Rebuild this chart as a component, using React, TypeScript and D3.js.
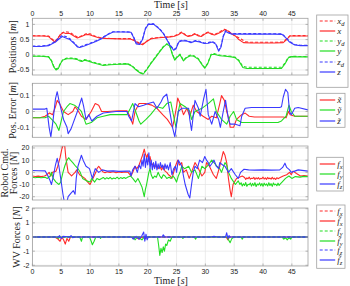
import React from 'react';
import * as d3 from 'd3';

type P = [number, number];

const T_MAX = 47.8;
const timeTicks = [0, 5, 10, 15, 20, 25, 30, 35, 40, 45];
const timeTickLabels = ['0', '5', '10', '15', '20', '25', '30', '35', '40', '45'];

// ---------- Panel 1: positions [m]
const posXd: P[] = [[0,0.63],[2.8,0.62],[3.4,0.52],[3.9,0.44],[4.4,0.55],[5,0.7],[5.6,0.76],[6.5,0.74],[7.3,0.64],[7.9,0.57],[8.6,0.63],[9.4,0.7],[10,0.69],[10.8,0.62],[11.8,0.56],[13,0.54],[15,0.53],[17,0.53],[17.8,0.47],[18.5,0.39],[19.1,0.35],[19.8,0.45],[20.6,0.54],[22,0.57],[23.5,0.59],[24.5,0.61],[25.3,0.68],[25.9,0.75],[26.5,0.67],[27,0.62],[27.6,0.65],[28.2,0.7],[28.8,0.64],[29.3,0.62],[29.9,0.7],[30.5,0.75],[31,0.7],[31.6,0.67],[32.2,0.72],[32.8,0.79],[33.3,0.84],[33.9,0.8],[34.6,0.68],[35.4,0.6],[36.2,0.52],[36.9,0.43],[38,0.41],[40,0.41],[42,0.41],[43.5,0.42],[44.2,0.54],[44.7,0.63],[47.8,0.63]];
const posX: P[] = [[0,0.62],[1,0.62],[2,0.62],[2.8,0.6],[3.4,0.5],[3.9,0.42],[4.3,0.5],[4.8,0.65],[5.3,0.73],[5.8,0.7],[6.5,0.7],[7.2,0.62],[7.8,0.55],[8.5,0.6],[9.2,0.66],[9.8,0.67],[10.5,0.62],[11.5,0.56],[12.5,0.54],[14,0.53],[15.5,0.52],[17,0.52],[17.8,0.45],[18.5,0.37],[19.1,0.33],[19.7,0.42],[20.5,0.52],[21.5,0.55],[22.5,0.57],[23.5,0.58],[24.5,0.6],[25.3,0.66],[25.9,0.73],[26.5,0.65],[27,0.6],[27.6,0.63],[28.2,0.68],[28.8,0.62],[29.3,0.6],[29.9,0.68],[30.5,0.73],[31,0.68],[31.6,0.65],[32.2,0.7],[32.8,0.76],[33.3,0.82],[33.9,0.78],[34.5,0.7],[35.2,0.62],[35.8,0.5],[36.6,0.4],[38,0.39],[40,0.39],[42,0.39],[43.5,0.4],[44.2,0.52],[44.7,0.62],[46,0.62],[47.8,0.62]];
const posYd: P[] = [[0,-0.04],[1.5,-0.04],[2.8,-0.06],[3.3,-0.18],[3.7,-0.37],[4.1,-0.47],[4.5,-0.43],[4.9,-0.26],[5.3,-0.15],[6,-0.11],[7,-0.11],[7.7,-0.13],[8.2,-0.17],[8.6,-0.2],[9,-0.16],[9.6,-0.18],[10.5,-0.24],[11.5,-0.29],[12.3,-0.33],[13.5,-0.31],[15,-0.3],[16.5,-0.29],[17.3,-0.36],[18,-0.48],[18.7,-0.58],[19.2,-0.62],[19.8,-0.48],[20.5,-0.28],[21.3,-0.08],[22,0.1],[22.7,0.27],[23.3,0.36],[23.8,0.31],[24.3,0.02],[24.7,-0.15],[25.1,-0.06],[25.6,0.02],[26.2,-0.18],[26.7,-0.08],[27.4,-0.01],[28,-0.03],[28.8,-0.13],[29.5,-0.33],[29.9,-0.42],[30.4,-0.28],[31,0.02],[31.5,0.04],[32.5,-0.01],[33.5,-0.03],[34.5,-0.05],[35.2,-0.08],[35.8,-0.18],[36.5,-0.38],[37.2,-0.41],[43.2,-0.41],[43.8,-0.27],[44.4,-0.08],[45,-0.05],[47.8,-0.06]];
const posY: P[] = [[0,-0.05],[1.5,-0.05],[2.8,-0.07],[3.3,-0.2],[3.7,-0.4],[4.1,-0.5],[4.5,-0.45],[4.9,-0.28],[5.3,-0.17],[6,-0.13],[7,-0.13],[7.7,-0.15],[8.2,-0.2],[8.6,-0.22],[9,-0.18],[9.6,-0.2],[10.5,-0.26],[11.5,-0.31],[12.3,-0.35],[13.5,-0.33],[15,-0.31],[16.5,-0.3],[17.3,-0.38],[18,-0.5],[18.7,-0.6],[19.2,-0.64],[19.8,-0.5],[20.5,-0.3],[21.3,-0.1],[22,0.08],[22.7,0.25],[23.3,0.35],[23.8,0.3],[24.3,0],[24.7,-0.18],[25.1,-0.08],[25.6,0],[26.2,-0.2],[26.7,-0.1],[27.4,-0.03],[28,-0.05],[28.8,-0.15],[29.5,-0.35],[29.9,-0.44],[30.4,-0.3],[31,0],[31.5,0.02],[32.5,-0.03],[33.5,-0.05],[34.5,-0.07],[35.2,-0.1],[35.8,-0.2],[36.5,-0.42],[37.2,-0.45],[39,-0.45],[41,-0.45],[43.2,-0.45],[43.8,-0.3],[44.4,-0.1],[45,-0.06],[46,-0.07],[47.8,-0.07]];
const posZd: P[] = [[0,0.29],[1.5,0.29],[2.8,0.32],[3.5,0.39],[4,0.45],[4.6,0.56],[5.2,0.64],[5.8,0.6],[6.5,0.53],[7.2,0.4],[7.8,0.28],[8.2,0.26],[9,0.31],[10,0.38],[11,0.46],[12,0.55],[13,0.67],[14,0.76],[17.1,0.75],[17.6,0.57],[18,0.39],[18.6,0.37],[19.1,0.52],[19.6,0.87],[20.1,1.01],[21,1.02],[22,0.87],[22.7,0.72],[23.3,0.52],[23.9,0.32],[24.5,0.17],[24.9,0.22],[25.4,0.44],[26,0.48],[26.8,0.47],[27.5,0.42],[28.3,0.47],[29,0.44],[29.8,0.39],[30.5,0.4],[31.2,0.44],[31.8,0.37],[32.3,0.15],[32.7,0.28],[33.1,0.62],[33.5,0.79],[34,0.74],[34.5,0.7],[43.3,0.69],[44,0.57],[44.6,0.44],[45.5,0.34],[46.5,0.31],[47.8,0.31]];
const posZ: P[] = [[0,0.27],[1.5,0.27],[2.8,0.3],[3.5,0.37],[4,0.42],[4.6,0.52],[5.2,0.6],[5.8,0.55],[6.5,0.5],[7.2,0.38],[7.8,0.26],[8.2,0.24],[9,0.29],[10,0.36],[11,0.44],[12,0.53],[13,0.66],[14,0.75],[15,0.75],[16,0.75],[17.1,0.74],[17.6,0.55],[18,0.36],[18.6,0.34],[19.1,0.5],[19.6,0.85],[20.1,1],[21,1.01],[22,0.85],[22.7,0.7],[23.3,0.5],[23.9,0.3],[24.5,0.15],[24.9,0.2],[25.4,0.42],[26,0.46],[26.8,0.45],[27.5,0.4],[28.3,0.45],[29,0.42],[29.8,0.37],[30.5,0.38],[31.2,0.42],[31.8,0.35],[32.3,0.12],[32.7,0.25],[33.1,0.6],[33.5,0.77],[34,0.72],[34.5,0.68],[36,0.68],[38,0.68],[40,0.68],[42,0.68],[43.3,0.67],[44,0.55],[44.6,0.42],[45.5,0.32],[46.5,0.3],[47.8,0.3]];
const posTicks = [-0.5, 0, 0.5, 1];
const posTickLabels = ['-0.5', '0', '0.5', '1'];

// ---------- Panel 2: position error [m]
const errX: P[] = [[0,-0.04],[1.3,-0.04],[2.2,-0.03],[3,-0.01],[3.5,-0.02],[4,0.03],[4.3,0.07],[4.7,0.05],[5.4,0],[6.2,-0.02],[7,0],[7.4,0.03],[8,0],[8.5,-0.03],[9.3,-0.05],[10.2,0],[10.9,0.05],[11.5,0.04],[12,0],[13,0],[15,0.005],[16.4,0.005],[16.9,-0.03],[17.4,-0.08],[17.8,0],[18.5,0.05],[19.6,0.05],[20.7,0.04],[21.6,0.02],[22.6,-0.02],[23.4,-0.05],[24.3,-0.1],[24.6,-0.05],[25,0.03],[25.2,0.085],[25.6,0.05],[26.2,-0.02],[26.8,0.02],[27.3,-0.03],[27.9,0.04],[28.5,0],[29.6,-0.03],[30.5,-0.05],[31.1,-0.03],[31.9,-0.04],[32.5,0.05],[32.8,0.1],[33.3,0.07],[33.7,0],[34.1,-0.05],[34.3,-0.1],[34.9,-0.1],[35.4,-0.05],[36.3,-0.02],[36.9,-0.01],[37.6,-0.03],[38.5,-0.035],[40,-0.035],[42,-0.035],[43.5,-0.035],[44,-0.04],[44.4,0],[44.7,-0.02],[45.5,-0.03],[47.8,-0.03]];
const errY: P[] = [[0,-0.04],[2.2,-0.04],[2.8,-0.03],[3.6,-0.06],[4.1,-0.08],[4.6,-0.12],[5,-0.06],[5.4,0],[6,0.03],[6.5,0.05],[7.3,0.04],[8,0.02],[8.5,0],[9,-0.05],[9.3,-0.08],[10.2,-0.07],[11.2,-0.04],[12.3,-0.03],[13.5,-0.02],[15,-0.02],[16.4,-0.02],[17,0.02],[17.4,0.05],[17.9,0],[18.5,-0.06],[18.8,-0.08],[19.7,-0.05],[20.5,-0.02],[21.6,0.03],[22.6,0.02],[23.3,0.05],[24,0.06],[24.5,-0.03],[24.9,-0.1],[25.3,0],[25.6,0.05],[26.5,0.03],[27.3,0],[27.6,-0.05],[28.2,0],[29.4,0.02],[30.5,0.05],[31.4,0.08],[31.9,0],[32.8,-0.05],[33.7,-0.08],[34.3,-0.03],[34.9,0],[35.4,-0.05],[36.3,-0.07],[38,-0.07],[40,-0.07],[42.6,-0.07],[43.2,-0.06],[44,-0.03],[44.5,0.04],[44.9,0],[45.5,-0.03],[47.8,-0.03]];
const errZ: P[] = [[0,0.015],[2.2,0.015],[2.5,0.02],[2.9,-0.1],[3.2,-0.16],[3.6,-0.05],[4,0.08],[4.3,0.125],[4.6,0.07],[5.4,-0.05],[6,-0.1],[6.2,-0.14],[6.7,-0.11],[7.1,-0.07],[7.8,0],[8.55,0.085],[8.9,0.03],[9.3,-0.05],[9.8,-0.02],[10.3,-0.06],[11.2,-0.03],[12.3,-0.01],[14.5,0],[16.4,0],[16.7,-0.03],[17.2,-0.06],[17.8,0.05],[18.4,0.03],[19.3,0.04],[20.1,0.05],[21,0.06],[21.6,0.02],[22.3,0.06],[22.7,0.09],[23.3,0.11],[23.6,0.05],[24.3,-0.1],[24.7,-0.16],[25.3,0],[25.9,0.02],[27.1,0.02],[27.3,-0.05],[27.6,-0.12],[28.2,0.07],[28.8,0.02],[29.1,-0.03],[29.7,0.08],[30.1,0.14],[30.5,-0.02],[31.1,-0.08],[31.7,0],[32.3,-0.05],[32.6,-0.1],[33.1,0],[33.5,0.07],[34,-0.05],[34.3,-0.08],[35.2,-0.08],[36,-0.09],[36.3,-0.03],[36.9,0.02],[38,0.025],[40,0.025],[42.9,0.025],[43.2,0.03],[43.5,0.09],[43.9,0.14],[44.3,0.12],[44.6,0],[44.9,-0.02],[45.5,0.02],[46.1,0.025],[47.8,0.01]];
const errTicks = [-0.1, 0, 0.1];
const errTickLabels = ['-0.1', '0', '0.1'];

// ---------- Panel 3: robot commanded forces [N]
const cmdFx: P[] = [[0,-3],[0.5,-3.4],[1,-3.1],[1.5,-3.5],[2.1,-3],[2.5,-2],[2.9,0],[3.2,-3],[3.5,0],[4.1,1],[4.4,5],[4.8,12],[5.1,19],[5.4,23],[5.6,22],[5.8,12],[6.2,0],[6.8,-3],[7.4,0],[7.7,2],[8.2,-2],[9.1,-5],[9.6,-8],[10,-10],[10.3,-7],[10.6,-4],[11,0],[11.2,3],[11.5,5],[11.8,3],[12.2,0.5],[12.6,-0.3],[13,0.4],[13.5,-0.2],[14,0.5],[14.5,-0.3],[15,0.3],[15.5,-0.2],[16,0.4],[16.6,0],[17.1,-3],[17.5,1],[17.8,5],[18.1,3],[18.5,6],[18.8,10],[19.1,14],[19.4,19],[19.6,15],[19.8,12],[20,15],[20.2,9],[20.4,13],[20.6,8],[20.9,6],[21.2,4],[21.5,6],[21.8,3],[22.1,5],[22.4,2],[22.7,5],[23,1],[23.3,0],[23.6,-2],[23.9,-3],[24.2,-5],[24.5,0],[24.8,5],[25.2,10],[25.5,6],[25.9,8],[26.2,0],[26.7,2],[27.2,-5],[27.6,0],[28.2,8],[28.6,5],[29.4,-3],[29.9,0],[30.2,8],[30.7,5],[31.4,-2],[31.9,-5],[32.5,5],[33.1,17],[33.4,14],[33.7,8],[34,-5],[34.3,-15],[34.5,-20],[34.8,-10],[35.4,-5],[36.4,-3],[36.8,-4.2],[37,-5.8],[37.2,-4.6],[37.4,-5.3],[37.6,-3.9],[37.8,-5.6],[38,-4.8],[38.2,-5.1],[38.4,-4.1],[38.6,-5.9],[38.8,-4.5],[39,-5.4],[39.2,-4.3],[39.4,-5.7],[39.6,-4.9],[39.8,-5.2],[40,-4],[40.2,-5.5],[40.4,-4.6],[40.6,-5.8],[40.8,-4.2],[41,-5.3],[41.2,-4.7],[41.4,-5.6],[41.6,-4.1],[41.8,-5.4],[42,-4.8],[42.2,-5.9],[42.4,-4.4],[42.6,-5.2],[42.8,-4.6],[43.5,-3],[44.1,-2],[44.6,0],[44.9,-2],[45.2,1],[45.8,-1],[46.5,-3],[47.1,-2.6],[47.8,-3]];
const cmdFy: P[] = [[0,-4],[0.5,-4.4],[1,-4.1],[1.5,-4.5],[2.2,-4],[2.6,-5],[3.1,-3],[3.3,0],[3.6,-5],[4.1,-8],[4.6,-10],[4.9,-8],[5.3,0],[5.6,5],[6,10],[6.3,12],[6.6,10],[7,8],[7.5,5],[7.9,3],[8.3,0],[8.7,-5],[9.4,-7],[10,-8],[10.3,-5],[10.8,-8],[11.2,-5],[11.6,-6],[12,-5],[12.3,-4.2],[12.6,-5.6],[12.9,-4.4],[13.2,-5.3],[13.5,-4.1],[13.8,-5.5],[14.1,-4.6],[14.4,-5.2],[14.7,-4],[15,-5.4],[15.3,-4.3],[15.6,-5.1],[15.9,-4.2],[16.2,-5],[16.5,-4],[17,-3],[17.4,-5],[17.9,-8],[18.3,-5],[18.6,-8],[19,-12],[19.4,-20],[19.6,-14],[19.8,-10],[20,-5],[20.2,0],[20.4,3],[20.6,-2],[20.9,-5],[21.2,-3],[21.5,-4],[21.8,0],[22.1,-3],[22.4,-5],[22.7,-2],[23,-3],[23.3,-5],[23.7,-4],[24,-5],[24.4,-3],[24.7,-5],[25,-8],[25.3,-3],[25.6,0],[25.9,5],[26.4,3],[27.1,5],[27.6,0],[28.2,2],[28.8,-5],[29.4,5],[29.9,3],[30.5,6],[31.1,10],[31.5,8],[32,5],[32.5,3],[32.8,0],[33.4,8],[33.7,6],[34,0],[34.5,-5],[35.2,-10],[35.7,-7],[36,-10],[36.2,-8.6],[36.4,-11.2],[36.6,-9.4],[36.8,-10.8],[37,-8.4],[37.2,-11.5],[37.4,-9.8],[37.6,-10.2],[37.8,-8.8],[38,-11.3],[38.2,-9.1],[38.4,-10.9],[38.6,-8.5],[38.8,-11.6],[39,-9.6],[39.2,-10.4],[39.4,-8.7],[39.6,-11.1],[39.8,-9.2],[40,-11.4],[40.2,-8.9],[40.4,-10.6],[40.6,-9.5],[40.8,-11.2],[41,-8.6],[41.2,-10.8],[41.4,-9.3],[41.6,-11.5],[41.8,-8.8],[42,-10.3],[42.2,-9.7],[42.4,-11],[42.6,-8.9],[42.8,-10.7],[43,-9.5],[43.3,-8],[43.9,-5],[44.5,-3],[45,-5],[45.6,-3.5],[46.4,-3.9],[47.1,-3.3],[47.8,-3.5]];
const cmdFz: P[] = [[0,1.5],[1,1.3],[2.2,1.2],[2.6,-2],[3,-6],[3.3,-10],[3.6,-4],[4,6],[4.3,11.5],[4.6,5],[5,-8],[5.3,-18],[5.6,-26],[6,-24],[6.2,-20],[6.7,-17],[7.1,-15],[7.4,-18],[7.6,-5],[7.9,5],[8.5,14],[8.8,10],[9.3,5],[9.9,3],[10.4,-5],[10.7,0],[10.9,3],[11.5,0],[12.1,2],[13,1],[14,1.2],[15,0.8],[16.4,1],[16.9,1],[17.1,-3],[17.4,2],[17.8,5],[18.2,0],[18.5,6],[18.8,3],[19,10],[19.2,5],[19.4,15],[19.6,4],[19.8,12],[20,6],[20.2,16],[20.4,3],[20.6,10],[20.8,2],[21,8],[21.2,3],[21.4,9],[21.6,2],[21.8,7],[22,3],[22.2,8],[22.4,4],[22.6,6],[22.8,2],[23,7],[23.2,3],[23.4,6],[23.6,2],[23.9,8],[24.2,-2],[24.5,3],[24.8,5],[25,0],[25.3,10],[25.9,5],[26.2,-3],[26.5,-10],[27,-18],[27.3,-21],[27.6,-10],[27.9,0],[28.2,5],[28.6,3],[29,10],[29.5,8],[29.9,13],[30.2,10],[30.5,8],[30.8,5],[31.1,7],[31.5,10],[31.9,5],[32.3,3],[32.5,8],[33,6],[33.4,5],[34,0],[34.5,3],[35.2,-2],[35.7,-5],[36.1,0],[36.7,2.5],[37.5,2],[38.5,1.8],[40,2],[41.5,1.8],[42.9,2],[43.4,4],[43.8,7.5],[44.1,4],[44.6,2],[44.9,0],[45.5,1],[46.1,2],[47.8,1]];
const cmdTicks = [-20, -10, 0, 10, 20];
const cmdTickLabels = ['-20', '-10', '0', '10', '20'];

// ---------- Panel 4: WV forces [N]
const wvFxd: P[] = [[0,0],[47.8,0]];
const wvFx: P[] = [[0,0],[3.9,0],[4.3,-0.1],[4.8,-0.3],[5.1,0],[5.4,-0.2],[5.7,-0.5],[6,-0.1],[6.3,-0.3],[6.6,0],[17.2,0],[17.5,-0.1],[17.8,0],[18.5,-0.15],[19,0],[19.6,-0.1],[20,0],[33.6,0],[33.9,-0.2],[34.2,0],[47.8,0]];
const wvFyd: P[] = [[0,0],[47.8,0]];
const wvFy: P[] = [[0,0],[4.2,0],[4.5,-0.1],[4.8,0],[8.2,0],[8.5,-0.3],[8.7,0],[9.9,0],[10.2,-0.3],[10.4,-0.55],[10.7,-0.3],[11,0],[11.7,0],[11.8,-0.1],[12,0],[17.5,0],[17.8,-0.2],[18.2,0],[19,-0.2],[19.4,0],[21.7,0],[21.9,-0.6],[22.1,-1.3],[22.3,-0.8],[22.5,-1.1],[22.7,-0.7],[22.9,-1],[23.1,-0.5],[23.3,-0.6],[23.6,-0.2],[23.9,-0.3],[24.2,0],[25.9,0],[26.1,-0.1],[26.4,0],[28.1,0],[28.3,-0.15],[28.5,0],[33.8,0],[34,-0.2],[34.3,-0.4],[34.6,-0.1],[35,0],[36.2,0],[36.4,-0.15],[36.6,0],[43.3,0],[43.6,-0.15],[43.9,-0.05],[44.2,-0.2],[44.5,-0.05],[44.8,-0.15],[45,0],[47.8,0]];
const wvFzd: P[] = [[0,0],[47.8,0]];
const wvFz: P[] = [[0,0],[4.5,0],[4.7,0.1],[5,-0.1],[5.3,0.05],[6.5,0],[6.7,0.1],[7,-0.05],[7.3,0],[17.2,0],[17.5,-0.15],[18,0.05],[18.5,-0.15],[19,0.1],[19.3,0.35],[19.5,-0.3],[19.7,0.2],[19.9,-0.2],[20.1,0],[22.5,0],[22.7,0.15],[23,0],[31,0],[31.5,0.05],[32,0],[33.5,0],[33.7,0.3],[33.9,-0.1],[34.1,0.1],[34.3,0],[47.8,0]];
const wvTicks = [-2, -1, 0, 1, 2];
const wvTickLabels = ['-2', '-1', '0', '1', '2'];

// ---------- styling / layout
const RED = '#ff2a2a';
const GREEN = '#22dd22';
const BLUE = '#3a3aff';
const X_LEFT = 32.4;
const X_RIGHT = 308;
const SANS = 'Liberation Sans, Arial, sans-serif';
const SERIF = 'Liberation Serif, Times New Roman, serif';

type Label = { base: string; tilde?: boolean; sub?: string };
type Series = { data: P[]; color: string; dashed?: boolean; label: Label };
type Panel = {
  top: number; bottom: number; domain: [number, number];
  ticks: number[]; tickLabels: string[];
  series: Series[];
  ylabel: string[]; ylabelX: number[];
  legend: { x: number; y: number; w: number; h: number; rowY0: number; rowDy: number };
};

const panels: Panel[] = [
  {
    top: 18.3, bottom: 75, domain: [-0.665, 1.2], ticks: posTicks, tickLabels: posTickLabels,
    series: [
      { data: posXd, color: RED, dashed: true, label: { base: 'x', sub: 'd' } },
      { data: posX, color: RED, label: { base: 'x' } },
      { data: posYd, color: GREEN, dashed: true, label: { base: 'y', sub: 'd' } },
      { data: posY, color: GREEN, label: { base: 'y' } },
      { data: posZd, color: BLUE, dashed: true, label: { base: 'z', sub: 'd' } },
      { data: posZ, color: BLUE, label: { base: 'z' } },
    ],
    ylabel: ['Positions [m]'], ylabelX: [15.5],
    legend: { x: 316.7, y: 15, w: 31.3, h: 72.3, rowY0: 20.8, rowDy: 10.2 },
  },
  {
    top: 83.3, bottom: 137.3, domain: [-0.163, 0.178], ticks: errTicks, tickLabels: errTickLabels,
    series: [
      { data: errX, color: RED, label: { base: 'x', tilde: true } },
      { data: errY, color: GREEN, label: { base: 'y', tilde: true } },
      { data: errZ, color: BLUE, label: { base: 'z', tilde: true } },
    ],
    ylabel: ['Pos. Error [m]'], ylabelX: [15.5],
    legend: { x: 316.7, y: 93.3, w: 28.3, h: 34, rowY0: 99.5, rowDy: 10.5 },
  },
  {
    top: 146, bottom: 200, domain: [-22.7, 21.6], ticks: cmdTicks, tickLabels: cmdTickLabels,
    series: [
      { data: cmdFx, color: RED, label: { base: 'f', sub: 'x' } },
      { data: cmdFy, color: GREEN, label: { base: 'f', sub: 'y' } },
      { data: cmdFz, color: BLUE, label: { base: 'f', sub: 'z' } },
    ],
    ylabel: ['Robot Cmd.', 'Forces [N]'], ylabelX: [8, 16.5],
    legend: { x: 316.7, y: 157.3, w: 26.6, h: 33.7, rowY0: 163.5, rowDy: 10.4 },
  },
  {
    top: 208, bottom: 266, domain: [-2.05, 2.05], ticks: wvTicks, tickLabels: wvTickLabels,
    series: [
      { data: wvFxd, color: RED, dashed: true, label: { base: 'f', sub: 'x' } },
      { data: wvFx, color: RED, label: { base: 'f', tilde: true, sub: 'x' } },
      { data: wvFyd, color: GREEN, dashed: true, label: { base: 'f', sub: 'y' } },
      { data: wvFy, color: GREEN, label: { base: 'f', tilde: true, sub: 'y' } },
      { data: wvFzd, color: BLUE, dashed: true, label: { base: 'f', sub: 'z' } },
      { data: wvFz, color: BLUE, label: { base: 'f', tilde: true, sub: 'z' } },
    ],
    ylabel: ['WV Forces [N]'], ylabelX: [20],
    legend: { x: 316.7, y: 205, w: 28.3, h: 63.3, rowY0: 211.2, rowDy: 9.8 },
  },
];

const x = d3.scaleLinear().domain([0, T_MAX]).range([X_LEFT, X_RIGHT]);

function YLabel({ text, x: lx, y: ly }: { text: string; x: number; y: number }) {
  const m = text.match(/^(.*)\[(.*)\]$/);
  return (
    <text transform={`translate(${lx},${ly}) rotate(-90)`} textAnchor="middle"
      fontFamily={SERIF} fontSize={10} fill="#222">
      {m ? `${m[1]}[` : text}
      {m ? <tspan fontStyle="italic">{m[2]}</tspan> : null}
      {m ? ']' : null}
    </text>
  );
}

function LegendLabel({ l, x: lx, y: ly }: { l: Label; x: number; y: number }) {
  return (
    <text x={lx} y={ly + 3} fontFamily={SERIF} fontSize={9} fontStyle="italic" fill="#222">
      {l.base + (l.tilde ? '\u0303' : '')}
      {l.sub ? <tspan fontSize={6.5} dy={1.8}>{l.sub}</tspan> : null}
    </text>
  );
}

export default function App() {
  return (
    <svg width={350} height={286} style={{ position: 'absolute', left: 0, top: 0, background: '#fff' }}>
      <rect x={0} y={0} width={350} height={286} fill="#fff" />
      <defs>
        {panels.map((p, i) => (
          <clipPath id={`clip${i}`} key={i}>
            <rect x={X_LEFT} y={p.top} width={X_RIGHT - X_LEFT} height={p.bottom - p.top} />
          </clipPath>
        ))}
      </defs>
      <text x={171} y={7.5} textAnchor="middle" fontFamily={SERIF} fontSize={10} fill="#222">
        {'Time ['}<tspan fontStyle="italic">s</tspan>{']'}
      </text>
      {timeTicks.map((t, i) => (
        <text key={'tt' + i} x={x(t)} y={15.5} textAnchor="middle" fontFamily={SANS} fontSize={7} fill="#222">{timeTickLabels[i]}</text>
      ))}
      {timeTicks.map((t, i) => (
        <text key={'bt' + i} x={x(t)} y={274} textAnchor="middle" fontFamily={SANS} fontSize={7} fill="#222">{timeTickLabels[i]}</text>
      ))}
      <text x={171} y={284} textAnchor="middle" fontFamily={SERIF} fontSize={10} fill="#222">
        {'Time ['}<tspan fontStyle="italic">s</tspan>{']'}
      </text>
      {panels.map((p, i) => {
        const y = d3.scaleLinear().domain(p.domain).range([p.bottom, p.top]);
        const line = d3.line<P>().x(d => x(d[0])).y(d => y(d[1]));
        const mid = (p.top + p.bottom) / 2;
        const lg = p.legend;
        return (
          <g key={i}>
            <rect x={X_LEFT} y={p.top} width={X_RIGHT - X_LEFT} height={p.bottom - p.top} fill="#fff" />
            {timeTicks.map((t, k) => (
              <line key={'gx' + k} x1={x(t)} x2={x(t)} y1={p.top} y2={p.bottom} stroke="#e4e4e4" strokeWidth={0.7} />
            ))}
            {p.ticks.map((v, k) => (
              <line key={'gy' + k} x1={X_LEFT} x2={X_RIGHT} y1={y(v)} y2={y(v)} stroke="#e4e4e4" strokeWidth={0.7} />
            ))}
            <g clipPath={`url(#clip${i})`}>
              {p.series.map((s, k) => (
                <path key={k} d={line(s.data) || ''} fill="none" stroke={s.color} strokeWidth={1.1}
                  strokeDasharray={s.dashed ? '3,2' : undefined} strokeLinejoin="round" />
              ))}
            </g>
            {timeTicks.map((t, k) => (
              <g key={'tk' + k}>
                <line x1={x(t)} x2={x(t)} y1={p.bottom} y2={p.bottom - 2.5} stroke="#999" strokeWidth={0.7} />
                <line x1={x(t)} x2={x(t)} y1={p.top} y2={p.top + 2.5} stroke="#999" strokeWidth={0.7} />
              </g>
            ))}
            {p.ticks.map((v, k) => (
              <g key={'yk' + k}>
                <line x1={X_LEFT} x2={X_LEFT + 2.5} y1={y(v)} y2={y(v)} stroke="#999" strokeWidth={0.7} />
                <line x1={X_RIGHT} x2={X_RIGHT - 2.5} y1={y(v)} y2={y(v)} stroke="#999" strokeWidth={0.7} />
                <text x={X_LEFT - 3} y={y(v) + 2.5} textAnchor="end" fontFamily={SANS} fontSize={7} fill="#222">{p.tickLabels[k]}</text>
              </g>
            ))}
            <rect x={X_LEFT} y={p.top} width={X_RIGHT - X_LEFT} height={p.bottom - p.top} fill="none" stroke="#a0a0a0" strokeWidth={0.8} />
            {p.ylabel.map((t, k) => (
              <YLabel key={k} text={t} x={p.ylabelX[k]} y={mid} />
            ))}
            <rect x={lg.x} y={lg.y} width={lg.w} height={lg.h} fill="#fff" stroke="#a0a0a0" strokeWidth={0.8} />
            {p.series.map((s, k) => {
              const ry = Math.round(lg.rowY0 + k * lg.rowDy);
              return (
                <g key={'lg' + k}>
                  <line x1={lg.x + 3} x2={lg.x + 18.5} y1={ry} y2={ry} stroke={s.color} strokeWidth={1.2}
                    strokeDasharray={s.dashed ? '3,2' : undefined} />
                  <LegendLabel l={s.label} x={lg.x + 20.5} y={ry} />
                </g>
              );
            })}
          </g>
        );
      })}
    </svg>
  );
}
